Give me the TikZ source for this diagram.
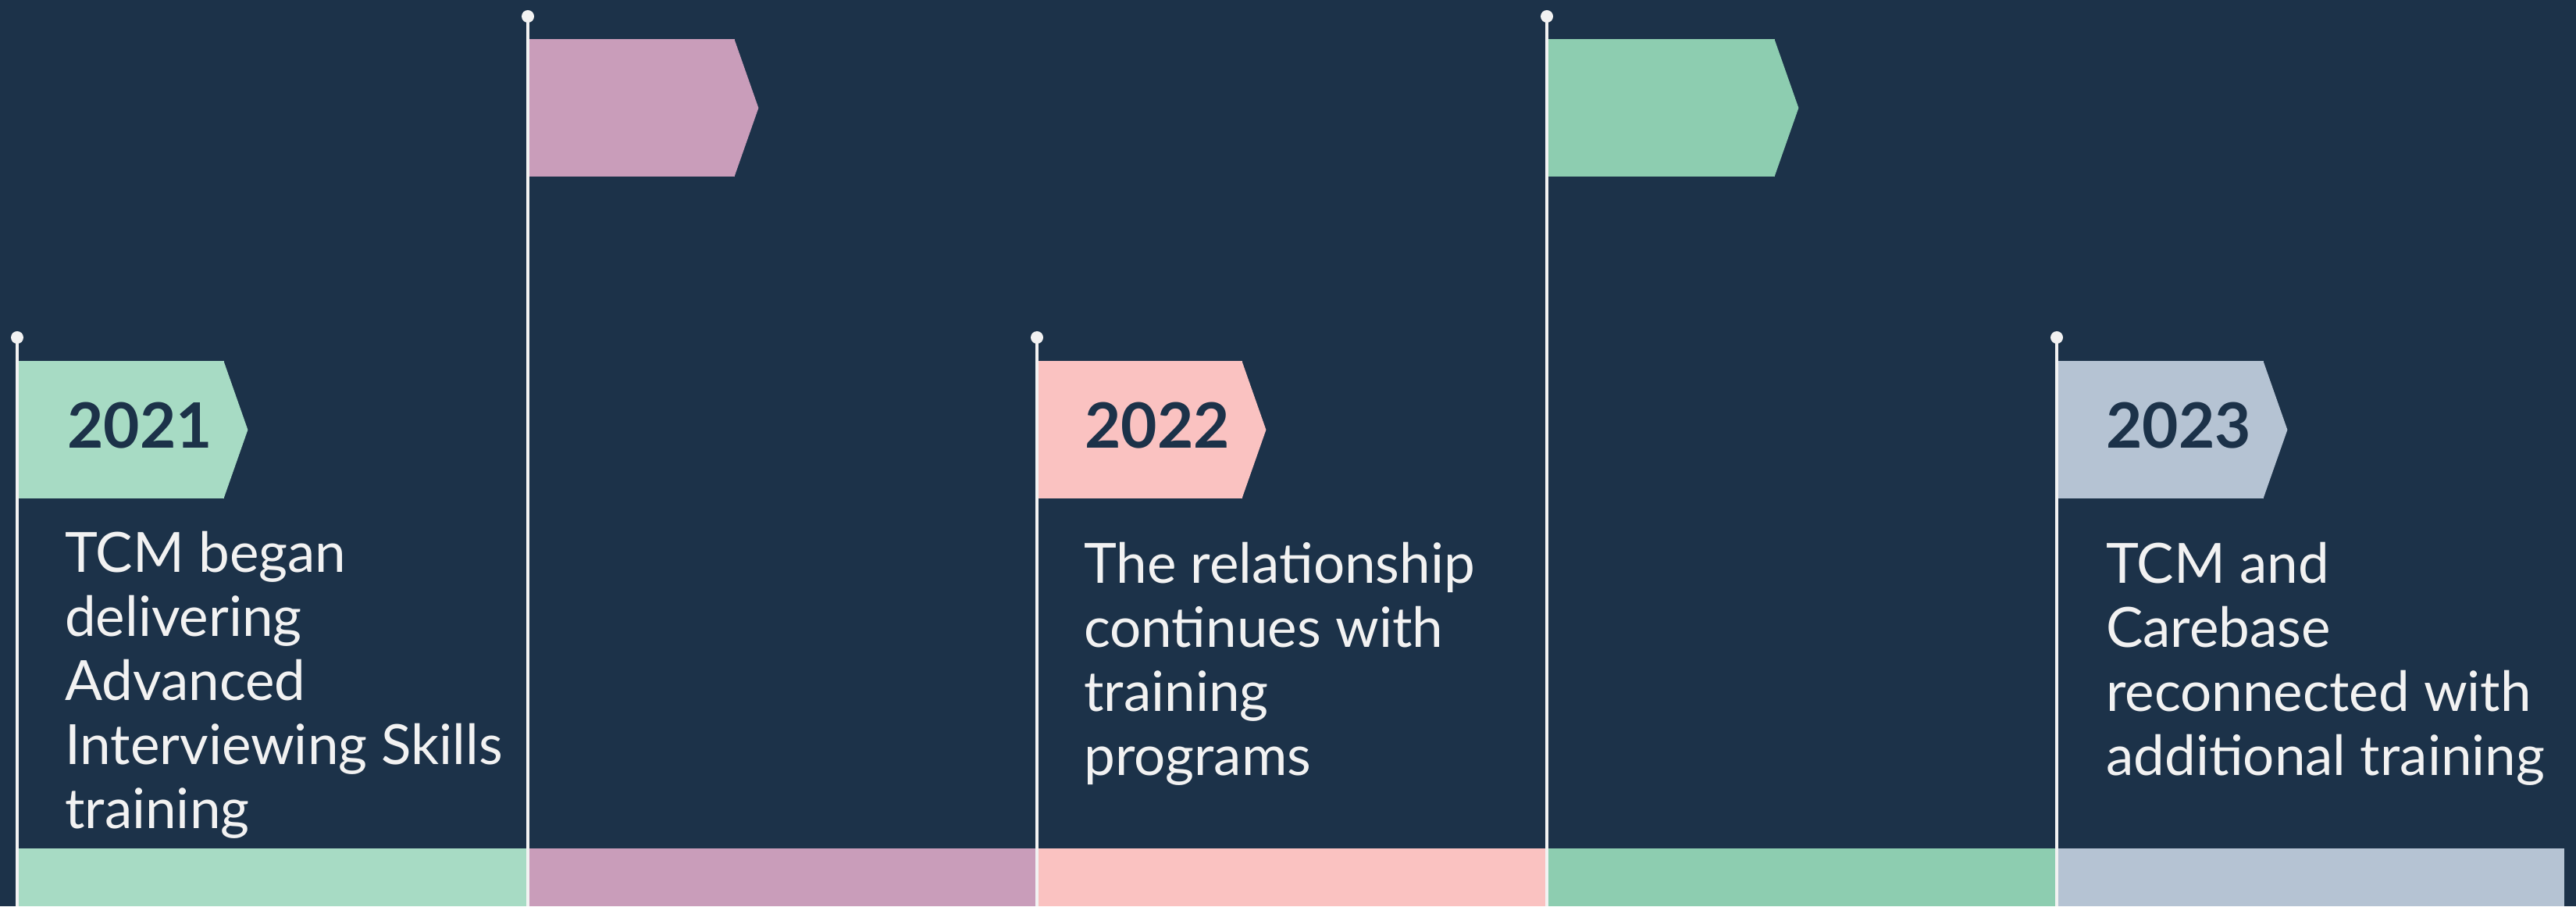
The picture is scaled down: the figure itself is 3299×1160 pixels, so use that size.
\documentclass[tikz,border=0pt]{standalone}
\usepackage{fontspec}
\setmainfont{Lato}
\usepackage{tikz}
\usetikzlibrary{positioning}
\definecolor{navy}{HTML}{1C3249}
\definecolor{polewhite}{HTML}{F2F2F2}
\definecolor{mint}{HTML}{A7DBC4}
\definecolor{mauve}{HTML}{C99DBA}
\definecolor{blush}{HTML}{FAC2C1}
\definecolor{sage}{HTML}{8DCDB0}
\definecolor{mist}{HTML}{B5C3D3}
\tikzstyle{pole}=[draw=polewhite, line width=4pt]
\tikzstyle{ball}=[circle, fill=polewhite, inner sep=0pt, minimum size=16pt]
\tikzstyle{flag}=[rectangle, inner sep=0pt, minimum height=176pt, anchor=north west]
\tikzstyle{year}=[font=\fontsize{80}{96}\selectfont\bfseries, text=navy, inner sep=0pt, anchor=base west]
\tikzstyle{story}=[font=\fontsize{71}{82}\selectfont, text=polewhite, align=left, inner sep=0pt, anchor=base west]

\begin{document}
\begin{tikzpicture}[x=1pt, y=1pt]
    \fill[navy] (0,0) rectangle (3299,1160);
    \useasboundingbox (0,0) rectangle (3299,1160);

    % pole tops and feet
    \coordinate (t1) at (22,728);
    \coordinate (t2) at (676,1139);
    \coordinate (t3) at (1328,728);
    \coordinate (t4) at (1981,1139);
    \coordinate (t5) at (2634,728);
    \coordinate (e1) at (22,0);
    \coordinate (e2) at (676,0);
    \coordinate (e3) at (1328,0);
    \coordinate (e4) at (1981,0);
    \coordinate (e5) at (2634,0);
    \coordinate (e6) at (3284,74);

    % bottom bar
    \fill[mint] (e1) rectangle (676,74);
    \fill[mauve] (e2) rectangle (1328,74);
    \fill[blush] (e3) rectangle (1981,74);
    \fill[sage] (e4) rectangle (2634,74);
    \fill[mist] (e5) rectangle (e6);

    % flags
    \node[flag, fill=mint, minimum width=265] (f1) at ([yshift=-30]t1) {};
    \node[flag, fill=mauve, minimum width=265] (f2) at ([yshift=-29]t2) {};
    \node[flag, fill=blush, minimum width=263] (f3) at ([yshift=-30]t3) {};
    \node[flag, fill=sage, minimum width=292] (f4) at ([yshift=-29]t4) {};
    \node[flag, fill=mist, minimum width=265] (f5) at ([yshift=-30]t5) {};
    \fill[mint] ([xshift=-1]f1.north east) -- ([xshift=30]f1.east) -- ([xshift=-1]f1.south east) -- cycle;
    \fill[mauve] ([xshift=-1]f2.north east) -- ([xshift=30]f2.east) -- ([xshift=-1]f2.south east) -- cycle;
    \fill[blush] ([xshift=-1]f3.north east) -- ([xshift=30]f3.east) -- ([xshift=-1]f3.south east) -- cycle;
    \fill[sage] ([xshift=-1]f4.north east) -- ([xshift=30]f4.east) -- ([xshift=-1]f4.south east) -- cycle;
    \fill[mist] ([xshift=-1]f5.north east) -- ([xshift=30]f5.east) -- ([xshift=-1]f5.south east) -- cycle;

    % poles
    \draw[pole] (t1) -- (e1);
    \draw[pole] (t2) -- (e2);
    \draw[pole] (t3) -- (e3);
    \draw[pole] (t4) -- (e4);
    \draw[pole] (t5) -- (e5);
    \node[ball] (b1) at (t1) {};
    \node[ball] (b2) at (t2) {};
    \node[ball] (b3) at (t3) {};
    \node[ball] (b4) at (t4) {};
    \node[ball] (b5) at (t5) {};

    % years and texts (base = last line)
    \node[year] (y1) at ([xshift=64, yshift=-23]f1.west) {2021};
    \node[year] (y3) at ([xshift=61, yshift=-23]f3.west) {2022};
    \node[year] (y5) at ([xshift=63, yshift=-23]f5.west) {2023};
    \node[story] (s1) at ([xshift=61, yshift=-422]f1.south west) {TCM began\\delivering\\Advanced\\Interviewing Skills\\training};
    \node[story] (s3) at ([xshift=60, yshift=-354]f3.south west) {The relationship\\continues with\\training\\programs};
    \node[story] (s5) at ([xshift=63, yshift=-354]f5.south west) {TCM and\\Carebase\\reconnected with\\additional training};
\end{tikzpicture}
\end{document}
